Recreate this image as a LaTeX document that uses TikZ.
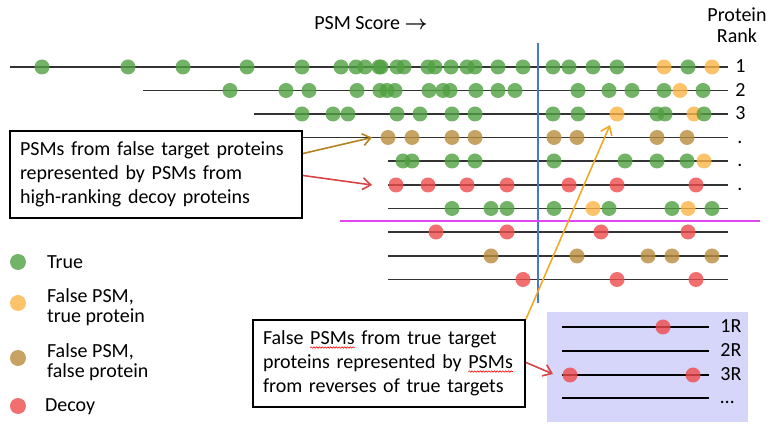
\documentclass[tikz,border=0pt]{standalone}
\usepackage{amsmath}
\usepackage{fontspec}
\setmainfont{Carlito}
\usetikzlibrary{arrows.meta,calc,decorations.pathmorphing}
\definecolor{truegreen}{RGB}{80,160,65}
\definecolor{fptyellow}{RGB}{252,180,70}
\definecolor{fpfbrown}{RGB}{185,140,60}
\definecolor{decoyred}{RGB}{238,75,75}
\definecolor{scoreblue}{RGB}{70,120,210}
\definecolor{cutmagenta}{RGB}{225,70,240}
\definecolor{revlavender}{RGB}{214,214,250}
\definecolor{goldarrow}{RGB}{180,130,30}
\definecolor{orangearrow}{RGB}{240,170,40}
\newlength{\sqwd}
\newcommand{\squig}[1]{\settowidth{\sqwd}{#1}\rlap{#1}\tikz[baseline=0pt]{%
    \useasboundingbox (0pt,0pt) rectangle (\sqwd,0pt);
    \draw[red, line width=0.3pt, decorate, decoration={snake, amplitude=0.35pt, segment length=1.4pt}]
        (0pt,-1.4pt) -- (\sqwd,-1.4pt);}}

\begin{document}
\begin{tikzpicture}[x=0.5pt, y=-0.5pt, >={Straight Barb[length=4pt,width=6pt]},
    every node/.style={font=\fontsize{10}{12}\selectfont},
    row/.style={draw=black!80, line width=0.7pt},
    ranklbl/.style={anchor=base west, inner sep=0pt},
    truedot/.style={fill=truegreen, fill opacity=0.8},
    fptdot/.style={fill=fptyellow, fill opacity=0.8},
    fpfdot/.style={fill=fpfbrown, fill opacity=0.8},
    decoydot/.style={fill=decoyred, fill opacity=0.8},
    textbox/.style={draw, fill=white, line width=1pt, align=left, inner xsep=5pt,
        minimum height=43.5pt, text width=126pt}]
    \useasboundingbox (0,0) rectangle (774,431);

    % headers
    \node (score) at (371,23) {PSM Score $\boldsymbol{\rightarrow}$};
    \node[align=center, font=\fontsize{10}{10.5}\selectfont] (rank) at (737,25) {Protein\\Rank};

    % protein rows
    \draw[row] (10,67) -- (728,67);
    \draw[row] (143,90.5) -- (728,90.5);
    \draw[row] (254,114) -- (728,114);
    \draw[row] (254,137.5) -- (728,137.5);
    \foreach \y in {161,185,208.5,232,256,279.5}
        \draw[row] (388,\y) -- (728,\y);

    \node[ranklbl] (r1) at (735,73) {1};
    \node[ranklbl] (r2) at (735,96.5) {2};
    \node[ranklbl] (r3) at (735,120) {3};
    \node[ranklbl] (r4) at (737,143.5) {.};
    \node[ranklbl] (r5) at (737,167) {.};
    \node[ranklbl] (r6) at (737,191) {.};

    % PSMs
    \foreach \x in {42,128,183,247,302,341,356,365,379,381,397,404,428,435,451,467,475,498,523,553,569,593,617,688}
        \fill[truedot] (\x,67) circle (3.75pt);
    \foreach \x in {664,712}
        \fill[fptdot] (\x,67) circle (3.75pt);
    \foreach \x in {230,286,309,357,380,387,395,429,443,450,476,498,515,578,609,632,664,703}
        \fill[truedot] (\x,90.5) circle (3.75pt);
    \fill[fptdot] (680,90.5) circle (3.75pt);
    \foreach \x in {302,333,348,397,420,452,475,553,578,657,665}
        \fill[truedot] (\x,114) circle (3.75pt);
    \foreach \x in {617,694}
        \fill[fptdot] (\x,114) circle (3.75pt);
    \fill[truedot] (704,114) circle (3.75pt);
    \foreach \x in {388,412,452,475,554,577,657,687}
        \fill[fpfdot] (\x,137.5) circle (3.75pt);
    \foreach \x in {403,412,452,475,554,625,657,687}
        \fill[truedot] (\x,161) circle (3.75pt);
    \fill[fptdot] (704,161) circle (3.75pt);
    \foreach \x in {396,428,467,507,569,617,696}
        \fill[decoydot] (\x,185) circle (3.75pt);
    \foreach \x in {452,491,507,554,609,672,712}
        \fill[truedot] (\x,208.5) circle (3.75pt);
    \foreach \x in {593,688}
        \fill[fptdot] (\x,208.5) circle (3.75pt);
    \foreach \x in {436,507,601,688}
        \fill[decoydot] (\x,232) circle (3.75pt);
    \foreach \x in {491,577,648,672,712}
        \fill[fpfdot] (\x,256) circle (3.75pt);
    \foreach \x in {523,617,696}
        \fill[decoydot] (\x,279.5) circle (3.75pt);

    % score cut-offs
    \draw[scoreblue, line width=1pt] (537.5,43) -- (537.5,303);
    \draw[cutmagenta, line width=1pt] (340,220.7) -- (760,220.7);

    % callouts
    \node[textbox, text width=136pt] (falsebox) at (156,174.5)
        {PSMs from false target proteins\\represented by PSMs from\\high-ranking decoy proteins};
    \node[textbox] (revbox) at (389,363.5)
        {False \squig{PSMs} from true target\\proteins represented by \squig{PSMs}\\from reverses of true targets};

    \coordinate (goldtip) at (372,137.5);
    \coordinate (redtip) at (372,185);
    \coordinate (oratip) at (610,125);
    \draw[->, goldarrow, line width=0.8pt] ($(falsebox.east)+(0,-21)$) -- (goldtip);
    \draw[->, decoyred!90!black, line width=0.8pt] ($(falsebox.east)+(0,1)$) -- (redtip);
    \draw[->, orangearrow, line width=0.8pt] (revbox.north east) -- (oratip);

    % reversed proteins
    \fill[revlavender] (547,312) rectangle (748,422);
    \foreach \y/\t [count=\i] in {327/1R,351/2R,375/3R,398/\dots}{
        \draw[black, line width=0.7pt] (562,\y) -- (709,\y);
        \node[ranklbl] (rr\i) at (720,\y+6) {\t};
    }
    \fill[decoydot] (663,327) circle (3.75pt);
    \fill[decoydot] (570,375) circle (3.75pt);
    \fill[decoydot] (693,375) circle (3.75pt);
    \coordinate (revtip) at (553,374);
    \draw[->, decoyred!90!black, line width=0.8pt] ($(revbox.east)+(0,-1)$) -- (revtip);

    % legend
    \fill[truedot] (18,262) circle (4pt);
    \fill[fptdot] (18,303) circle (4pt);
    \fill[fpfdot] (18,358) circle (4pt);
    \fill[decoydot] (18,406) circle (4pt);
    \node[anchor=west] (ltrue) at (40,262) {True};
    \node[anchor=west, align=left, font=\fontsize{10}{10}\selectfont] (lfpt) at (40,307) {False PSM,\\true protein};
    \node[anchor=west, align=left, font=\fontsize{10}{10}\selectfont] (lfpf) at (40,362) {False PSM,\\false protein};
    \node[anchor=west] (ldecoy) at (38,407) {Decoy};
\end{tikzpicture}
\end{document}
